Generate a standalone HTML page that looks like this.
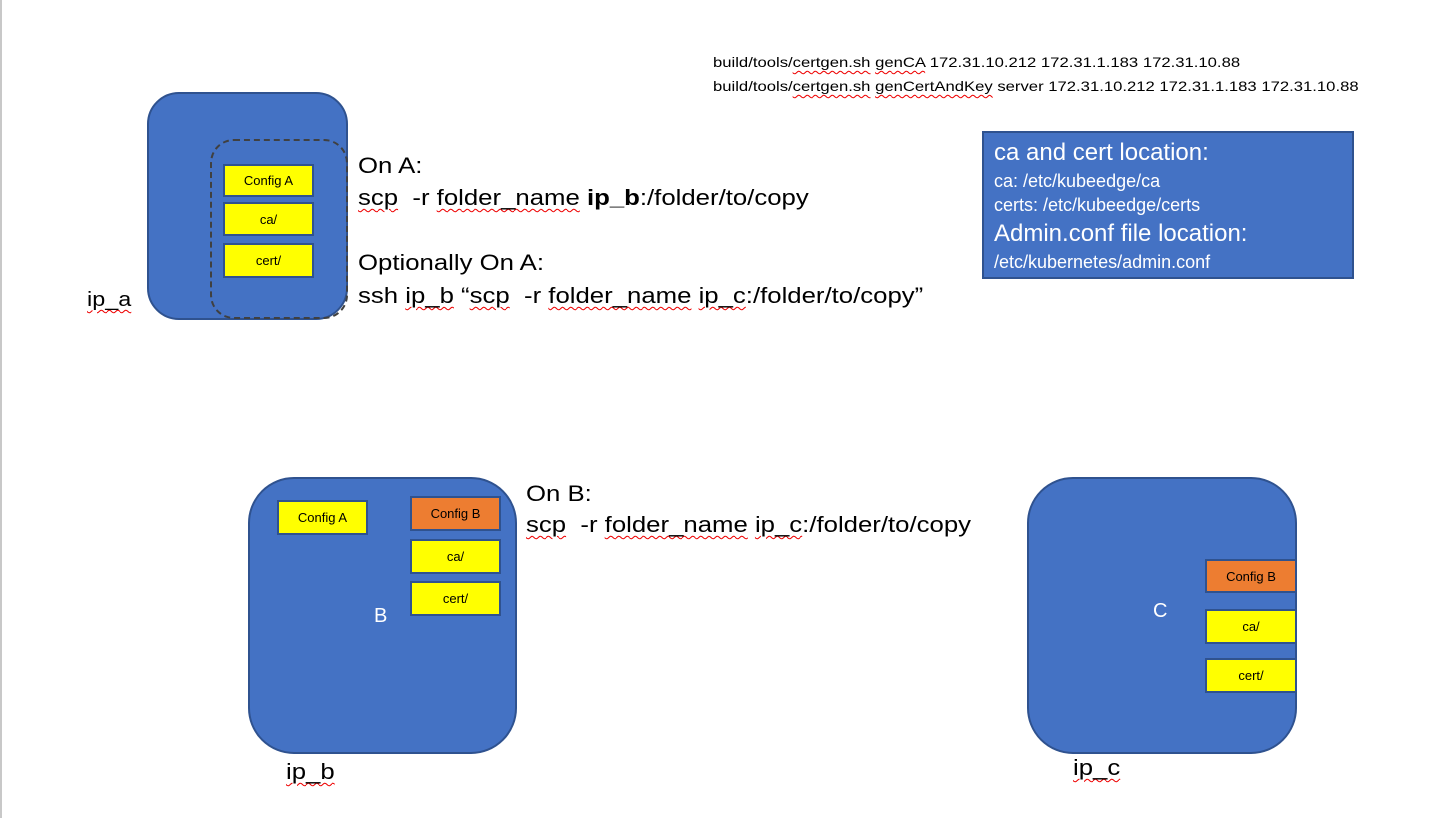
<!DOCTYPE html>
<html><head><style>
body{margin:0;width:1455px;height:818px;background:#fff;position:relative;overflow:hidden;font-family:"Liberation Sans",Calibri,sans-serif;}
div{position:absolute;box-sizing:border-box;}
.node{background:#4472C4;border:2px solid #2F528F;}
.y{background:#FFFF00;border:2px solid #2F528F;font-size:13px;text-align:center;color:#000;display:flex;align-items:center;justify-content:center;}
.o{background:#ED7D31;border:2px solid #2F528F;font-size:13px;text-align:center;color:#000;display:flex;align-items:center;justify-content:center;}
.t{color:#000;font-size:22px;white-space:nowrap;line-height:32px;}
.w{transform:scaleX(1.17);transform-origin:left center;}
.sq{text-decoration:underline wavy #e00;text-decoration-thickness:1px;text-underline-offset:3px;}
</style></head><body>
<div style="left:0;top:0;width:2px;height:818px;background:#c8c8c8"></div>

<div style="left:713px;top:50px;font-size:14px;line-height:24px;white-space:nowrap;transform:scaleX(1.19);transform-origin:left top">build/tools/<span class="sq">certgen.sh</span> <span class="sq">genCA</span> 172.31.10.212 172.31.1.183 172.31.10.88<br>build/tools/<span class="sq">certgen.sh</span> <span class="sq">genCertAndKey</span> server 172.31.10.212 172.31.1.183 172.31.10.88</div>

<!-- A -->
<div class="node" style="left:147px;top:92px;width:201px;height:228px;border-radius:32px"></div>
<div style="left:210px;top:139px;width:138px;height:180px;border:2px dashed #404040;border-radius:24px"></div>
<div class="y" style="left:223px;top:164px;width:91px;height:33px">Config A</div>
<div class="y" style="left:223px;top:202px;width:91px;height:34px">ca/</div>
<div class="y" style="left:223px;top:243px;width:91px;height:35px">cert/</div>
<div class="t w" style="left:87px;top:284px;font-size:20px"><span class="sq">ip_a</span></div>

<div class="t w" style="left:358px;top:150px">On A:</div>
<div class="t w" style="left:358px;top:182px"><span class="sq">scp</span>&nbsp; -r <span class="sq">folder_name</span> <b>ip_b</b>:/folder/to/copy</div>
<div class="t w" style="left:358px;top:247px">Optionally On A:</div>
<div class="t w" style="left:358px;top:280px">ssh <span class="sq">ip_b</span> “<span class="sq">scp</span>&nbsp; -r <span class="sq">folder_name</span> <span class="sq">ip_c</span>:/folder/to/copy”</div>

<!-- info -->
<div style="left:982px;top:131px;width:372px;height:148px;background:#4472C4;border:2px solid #2F528F;color:#fff;padding:4px 0 0 10px;white-space:nowrap">
<div style="position:static;font-size:24px;line-height:32px">ca and cert location:</div>
<div style="position:static;font-size:18px;line-height:24px">ca: /etc/kubeedge/ca</div>
<div style="position:static;font-size:18px;line-height:25px">certs: /etc/kubeedge/certs</div>
<div style="position:static;font-size:24px;line-height:31px">Admin.conf file location:</div>
<div style="position:static;font-size:18px;line-height:27px">/etc/kubernetes/admin.conf</div>
</div>

<!-- B -->
<div class="node" style="left:248px;top:477px;width:269px;height:277px;border-radius:46px"></div>
<div class="y" style="left:277px;top:500px;width:91px;height:35px">Config A</div>
<div class="o" style="left:410px;top:496px;width:91px;height:35px">Config B</div>
<div class="y" style="left:410px;top:539px;width:91px;height:35px">ca/</div>
<div class="y" style="left:410px;top:581px;width:91px;height:35px">cert/</div>
<div style="left:374px;top:605px;color:#fff;font-size:20px">B</div>
<div class="t w" style="left:286px;top:756px;font-size:22px"><span class="sq">ip_b</span></div>
<div class="t w" style="left:526px;top:478px">On B:</div>
<div class="t w" style="left:526px;top:509px"><span class="sq">scp</span>&nbsp; -r <span class="sq">folder_name</span> <span class="sq">ip_c</span>:/folder/to/copy</div>

<!-- C -->
<div class="node" style="left:1027px;top:477px;width:270px;height:277px;border-radius:46px"></div>
<div class="o" style="left:1205px;top:559px;width:92px;height:34px">Config B</div>
<div class="y" style="left:1205px;top:609px;width:92px;height:35px">ca/</div>
<div class="y" style="left:1205px;top:658px;width:92px;height:35px">cert/</div>
<div style="left:1153px;top:600px;color:#fff;font-size:20px">C</div>
<div class="t w" style="left:1073px;top:752px;font-size:22px"><span class="sq">ip_c</span></div>
</body></html>
